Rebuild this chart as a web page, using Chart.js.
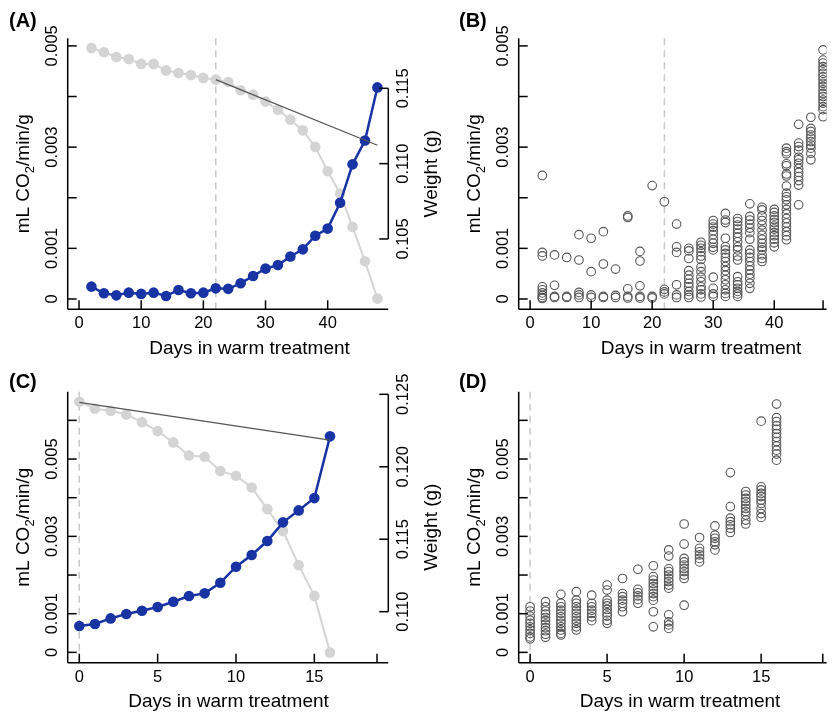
<!DOCTYPE html>
<html>
<head>
<meta charset="utf-8">
<script src="https://cdn.jsdelivr.net/npm/chart.js@4.4.0/dist/chart.umd.min.js"></script>
<style>
  html, body { margin: 0; padding: 0; background: #fff; overflow: hidden; }
  #wrap { position: relative; width: 832px; height: 716px; }
  canvas { position: absolute; }
</style>
</head>
<body>
<div id="wrap">
  <canvas id="cA" width="450" height="360" style="left:0;top:0"></canvas>
  <canvas id="cB" width="416" height="360" style="left:416px;top:0"></canvas>
  <canvas id="cC" width="450" height="356" style="left:0;top:360px"></canvas>
  <canvas id="cD" width="416" height="356" style="left:416px;top:360px"></canvas>
</div>
<script>
// ---- Panel A: one individual, respiration (left) + weight (right) ----
const daysA = [2, 4, 6, 8, 10, 12, 14, 16, 18, 20, 22, 24, 26, 28, 30, 32, 34, 36, 38, 40, 42, 44, 46, 48];
const respA = [0.000244, 0.000112, 0.000072, 0.000125, 0.000100, 0.000125, 0.000060, 0.000178, 0.000112, 0.000125,
  0.000210, 0.000200, 0.000310, 0.000455, 0.000600, 0.000670, 0.000840, 0.000980, 0.00125, 0.00139,
  0.00190, 0.00266, 0.00313, 0.00418];
const weightA = [0.11768, 0.11739, 0.11708, 0.11695, 0.11662, 0.11662, 0.11619, 0.11602, 0.11588, 0.11569,
  0.11558, 0.11542, 0.11487, 0.11458, 0.11412, 0.11358, 0.11292, 0.11221, 0.11111, 0.10949,
  0.10801, 0.10580, 0.10352, 0.10104];
const trendDaysA = [22, 48];
const trendWeightA = [0.11558, 0.11122];

// ---- Panel B: all individuals, respiration by day ----
const daysB = [2, 4, 6, 8, 10, 12, 14, 16, 18, 20, 22, 24, 26, 28, 30, 32, 34, 36, 38, 40, 42, 44, 46, 48];
const respB = [
  [0.00244, 0.00092, 0.00085, 0.00024, 0.00018, 0.00012, 0.00007, 0.00003, 0.00001],
  [0.00087, 0.00027, 0.00005, 0.00003],
  [0.00082, 0.00005, 0.00003],
  [0.00127, 0.00077, 0.00013, 0.00008, 0.00003],
  [0.00120, 0.00054, 0.00008, 0.00003],
  [0.00133, 0.00069, 0.00005, 0.00003],
  [0.00059, 0.00007, 0.00003],
  [0.00164, 0.00161, 0.00020, 0.00005, 0.00002],
  [0.00094, 0.00075, 0.00026, 0.00005, 0.00002],
  [0.00224, 0.00005, 0.00002],
  [0.00192, 0.00019, 0.00014, 0.00010],
  [0.00148, 0.00103, 0.00092, 0.00028, 0.00008, 0.00003],
  [0.00100, 0.00095, 0.00080, 0.00056, 0.00047, 0.00039, 0.00031, 0.00024, 0.00015, 0.00008, 0.00003],
  [0.00112, 0.00106, 0.00100, 0.00093, 0.00085, 0.00078, 0.00063, 0.00054, 0.00043, 0.00034, 0.00024, 0.00018, 0.00010, 0.00004],
  [0.00155, 0.00148, 0.00142, 0.00135, 0.00127, 0.00118, 0.00110, 0.00102, 0.00097, 0.00043, 0.00021, 0.00010, 0.00005],
  [0.00169, 0.00156, 0.00151, 0.00120, 0.00103, 0.00097, 0.00090, 0.00082, 0.00074, 0.00064, 0.00056, 0.00047, 0.00038, 0.00028, 0.00018, 0.00011, 0.00005],
  [0.00159, 0.00153, 0.00146, 0.00138, 0.00130, 0.00122, 0.00113, 0.00103, 0.00097, 0.00085, 0.00077, 0.00044, 0.00034, 0.00028, 0.00021, 0.00015, 0.00010, 0.00005],
  [0.00188, 0.00163, 0.00156, 0.00148, 0.00140, 0.00131, 0.00118, 0.00097, 0.00090, 0.00082, 0.00074, 0.00065, 0.00057, 0.00049, 0.00041, 0.00031, 0.00021],
  [0.00181, 0.00176, 0.00164, 0.00155, 0.00146, 0.00136, 0.00126, 0.00118, 0.00110, 0.00102, 0.00097, 0.00087, 0.00080, 0.00074],
  [0.00177, 0.00171, 0.00164, 0.00157, 0.00151, 0.00144, 0.00138, 0.00131, 0.00125, 0.00118, 0.00111, 0.00103],
  [0.00298, 0.00291, 0.00287, 0.00267, 0.00263, 0.00247, 0.00243, 0.00223, 0.00209, 0.00202, 0.00196, 0.00186, 0.00177, 0.00168, 0.00159, 0.00150, 0.00142, 0.00133, 0.00125, 0.00117],
  [0.00345, 0.00308, 0.00301, 0.00294, 0.00280, 0.00275, 0.00268, 0.00258, 0.00250, 0.00242, 0.00234, 0.00225, 0.00186],
  [0.00359, 0.00337, 0.00331, 0.00324, 0.00318, 0.00311, 0.00304, 0.00298, 0.00288, 0.00275],
  [0.00492, 0.00472, 0.00466, 0.00459, 0.00453, 0.00446, 0.00439, 0.00433, 0.00426, 0.00420, 0.00413, 0.00406, 0.00400, 0.00393, 0.00387, 0.00380, 0.00374, 0.00360]
];

// ---- Panel C: one individual, second experiment ----
const daysC = [0, 1, 2, 3, 4, 5, 6, 7, 8, 9, 10, 11, 12, 13, 14, 15, 16];
const respC = [0.000681, 0.000733, 0.000879, 0.000991, 0.001078, 0.001172, 0.00131, 0.001457, 0.001526,
  0.0018, 0.002216, 0.002517, 0.00288, 0.003362, 0.003672, 0.00399, 0.005586];
const weightC = [0.12449, 0.12400, 0.12387, 0.12361, 0.12308, 0.12246, 0.12168, 0.12078, 0.12069,
  0.11970, 0.11938, 0.11857, 0.11708, 0.11556, 0.11321, 0.11109, 0.10718];
const trendDaysC = [0, 16];
const trendWeightC = [0.12444, 0.12184];

// ---- Panel D: all individuals, second experiment ----
const daysD = [0, 1, 2, 3, 4, 5, 6, 7, 8, 9, 10, 11, 12, 13, 14, 15, 16];
const respD = [
  [0.00118, 0.00107, 0.00094, 0.00083, 0.00075, 0.00066, 0.00058, 0.00049, 0.00040, 0.00035],
  [0.00131, 0.00118, 0.00107, 0.00099, 0.00090, 0.00082, 0.00073, 0.00064, 0.00056, 0.00047, 0.00039],
  [0.00150, 0.00127, 0.00118, 0.00109, 0.00101, 0.00092, 0.00083, 0.00075, 0.00066, 0.00058, 0.00049, 0.00045],
  [0.00157, 0.00135, 0.00127, 0.00118, 0.00109, 0.00101, 0.00092, 0.00083, 0.00075, 0.00066, 0.00058],
  [0.00148, 0.00127, 0.00118, 0.00109, 0.00101, 0.00092, 0.00082],
  [0.00174, 0.00161, 0.00135, 0.00127, 0.00120, 0.00111, 0.00102, 0.00094, 0.00083, 0.00075],
  [0.00191, 0.00152, 0.00144, 0.00135, 0.00127, 0.00118, 0.00105],
  [0.00215, 0.00163, 0.00154, 0.00146, 0.00137, 0.00127],
  [0.00224, 0.00196, 0.00187, 0.00178, 0.00170, 0.00161, 0.00152, 0.00144, 0.00135, 0.00105, 0.00066],
  [0.00265, 0.00249, 0.00216, 0.00209, 0.00200, 0.00191, 0.00183, 0.00174, 0.00166, 0.00097, 0.00079, 0.00071, 0.00062],
  [0.00332, 0.00280, 0.00243, 0.00234, 0.00226, 0.00217, 0.00209, 0.00200, 0.00191, 0.00122],
  [0.00297, 0.00269, 0.00260, 0.00252, 0.00243, 0.00234],
  [0.00327, 0.00303, 0.00295, 0.00286, 0.00278, 0.00265],
  [0.00465, 0.00377, 0.00347, 0.00338, 0.00330, 0.00321, 0.00310],
  [0.00416, 0.00407, 0.00398, 0.00390, 0.00381, 0.00372, 0.00364, 0.00355, 0.00342, 0.00332],
  [0.00598, 0.00428, 0.00420, 0.00411, 0.00403, 0.00394, 0.00385, 0.00372, 0.00359, 0.00349],
  [0.00642, 0.00607, 0.00597, 0.00586, 0.00577, 0.00566, 0.00556, 0.00545, 0.00534, 0.00523, 0.00513, 0.00497]
];

// ---- Axis ticks and labels ----
const respTicksAB = [0, 0.001, 0.002, 0.003, 0.004, 0.005];
const respLabelsAB = ["0", "0.001", "", "0.003", "", "0.005"];
const respTicksCD = [0, 0.001, 0.002, 0.003, 0.004, 0.005, 0.006];
const respLabelsCD = ["0", "0.001", "", "0.003", "", "0.005", ""];
const dayTicksA = [0, 10, 20, 30, 40];
const dayLabelsA = ["0", "10", "20", "30", "40"];
const dayTicksB = [0, 10, 20, 30, 40, 48];
const dayLabelsB = ["0", "10", "20", "30", "40", ""];
const dayTicksCD = [0, 5, 10, 15, 19];
const dayLabelsCD = ["0", "5", "10", "15", ""];
const weightTicksA = [0.105, 0.110, 0.115];
const weightLabelsA = ["0.105", "0.110", "0.115"];
const weightTicksC = [0.110, 0.115, 0.120, 0.125];
const weightLabelsC = ["0.110", "0.115", "0.120", "0.125"];

const BLUE = "#1833a4";
const LIGHT = "#d4d4d4";
const RING = "#555555";
const FONT = '"Liberation Sans", Arial, Helvetica, sans-serif';

// per-panel axis setup (read by the plugin)
const panels = {
  cA: { letter: "(A)", letterX: 9, letterY: 21, treatDay: 22,
        xTicks: dayTicksA, xLabels: dayLabelsA, yTicks: respTicksAB, yLabels: respLabelsAB,
        y2Ticks: weightTicksA, y2Labels: weightLabelsA, xTitleX: 249.5, y2TitleX: 432 },
  cB: { letter: "(B)", letterX: 43, letterY: 21, treatDay: 22,
        xTicks: dayTicksB, xLabels: dayLabelsB, yTicks: respTicksAB, yLabels: respLabelsAB,
        xTitleX: 285 },
  cC: { letter: "(C)", letterX: 9, letterY: 22, treatDay: 0,
        xTicks: dayTicksCD, xLabels: dayLabelsCD, yTicks: respTicksCD, yLabels: respLabelsCD,
        y2Ticks: weightTicksC, y2Labels: weightLabelsC, xTitleX: 228.5, y2TitleX: 432 },
  cD: { letter: "(D)", letterX: 43, letterY: 22, treatDay: 0,
        xTicks: dayTicksCD, xLabels: dayLabelsCD, yTicks: respTicksCD, yLabels: respLabelsCD,
        xTitleX: 264 }
};

function rotText(ctx, text, x, y, font) {
  ctx.save();
  ctx.translate(x, y);
  ctx.rotate(-Math.PI / 2);
  ctx.font = font;
  ctx.textAlign = "center";
  ctx.textBaseline = "middle";
  ctx.fillText(text, 0, 0);
  ctx.restore();
}

function respTitle(ctx, x, y) {
  const big = "19px " + FONT, small = "13px " + FONT;
  const parts = [["mL CO", big, 0], ["2", small, 5], ["/min/g", big, 0]];
  ctx.save();
  ctx.translate(x, y);
  ctx.rotate(-Math.PI / 2);
  let w = 0;
  parts.forEach(p => { ctx.font = p[1]; w += ctx.measureText(p[0]).width; });
  let cx = -w / 2;
  ctx.textBaseline = "alphabetic";
  ctx.textAlign = "left";
  parts.forEach(p => {
    ctx.font = p[1];
    ctx.fillText(p[0], cx, 7 + p[2]);
    cx += ctx.measureText(p[0]).width;
  });
  ctx.restore();
}

const TICK = 9;

const rAxes = {
  id: "rAxes",
  beforeDatasetsDraw(chart) {
    const p = panels[chart.canvas.id];
    const ctx = chart.ctx, a = chart.chartArea;
    const x = chart.scales.x.getPixelForValue(p.treatDay);
    ctx.save();
    ctx.strokeStyle = "#c9c9c9";
    ctx.lineWidth = 1.5;
    ctx.setLineDash([7, 5]);
    ctx.beginPath();
    ctx.moveTo(x, a.top);
    ctx.lineTo(x, a.bottom);
    ctx.stroke();
    ctx.restore();
  },
  afterDraw(chart) {
    const p = panels[chart.canvas.id];
    const ctx = chart.ctx, a = chart.chartArea;
    const sx = chart.scales.x, sy = chart.scales.y, sy2 = chart.scales.y2;
    const tickFont = "16.5px " + FONT;
    ctx.save();
    ctx.strokeStyle = "#000";
    ctx.fillStyle = "#000";
    ctx.lineWidth = 1.5;
    const seg = (x1, y1, x2, y2) => { ctx.beginPath(); ctx.moveTo(x1, y1); ctx.lineTo(x2, y2); ctx.stroke(); };

    // left and bottom axis lines
    seg(a.left, a.top, a.left, a.bottom);
    seg(a.left, a.bottom, a.right, a.bottom);

    p.yTicks.forEach((v, i) => {
      const y = sy.getPixelForValue(v);
      seg(a.left, y, a.left + TICK, y);
      if (p.yLabels[i]) rotText(ctx, p.yLabels[i], a.left - 15, y, tickFont);
    });

    ctx.font = tickFont;
    ctx.textAlign = "center";
    ctx.textBaseline = "middle";
    p.xTicks.forEach((v, i) => {
      const x = sx.getPixelForValue(v);
      seg(x, a.bottom, x, a.bottom - TICK);
      if (p.xLabels[i]) ctx.fillText(p.xLabels[i], x, a.bottom + 14.5);
    });

    // right axis for weight
    if (p.y2Ticks) {
      const top = sy2.getPixelForValue(p.y2Ticks[p.y2Ticks.length - 1]);
      const bot = sy2.getPixelForValue(p.y2Ticks[0]);
      seg(a.right, top, a.right, bot);
      p.y2Ticks.forEach((v, i) => {
        const y = sy2.getPixelForValue(v);
        seg(a.right - TICK, y, a.right, y);
        rotText(ctx, p.y2Labels[i], a.right + 15.5, y, tickFont);
      });
      rotText(ctx, "Weight (g)", p.y2TitleX, (a.top + a.bottom) / 2, "19px " + FONT);
    }

    // titles
    ctx.font = "19px " + FONT;
    ctx.textAlign = "center";
    ctx.textBaseline = "middle";
    ctx.fillText("Days in warm treatment", p.xTitleX, a.bottom + 39.5);
    respTitle(ctx, a.left - 45.5, (a.top + a.bottom) / 2);

    // panel letter
    ctx.font = "bold 20px " + FONT;
    ctx.textAlign = "left";
    ctx.fillText(p.letter, p.letterX, p.letterY);
    ctx.restore();
  }
};

function pairs(xs, ys) {
  return xs.map((x, i) => ({ x: x, y: ys[i] }));
}

function cloud(days, groups) {
  const pts = [];
  days.forEach((d, i) => groups[i].forEach(v => pts.push({ x: d, y: v })));
  return pts;
}

function lineSet(data, color, width, radius, axis, order) {
  return {
    data: data, yAxisID: axis, showLine: true, order: order,
    borderColor: color, backgroundColor: color, borderWidth: width,
    pointRadius: radius, pointBorderWidth: 0, pointBackgroundColor: color, pointHoverRadius: radius
  };
}

function ringSet(data) {
  return {
    data: data, yAxisID: "y", order: 1,
    pointRadius: 4.3, pointBorderWidth: 1.1, pointBorderColor: RING,
    pointBackgroundColor: "rgba(0,0,0,0)", pointHoverRadius: 4.3
  };
}

function makeChart(id, datasets, pad, xr, yr, y2r) {
  const scales = {
    x: { type: "linear", display: false, min: xr[0], max: xr[1] },
    y: { type: "linear", display: false, min: yr[0], max: yr[1] }
  };
  if (y2r) scales.y2 = { type: "linear", display: false, min: y2r[0], max: y2r[1] };
  return new Chart(document.getElementById(id), {
    type: "scatter",
    data: { datasets: datasets },
    options: {
      responsive: false,
      animation: false,
      devicePixelRatio: 1,
      layout: { padding: pad },
      plugins: { legend: { display: false }, tooltip: { enabled: false } },
      events: [],
      scales: scales
    },
    plugins: [rAxes]
  });
}

makeChart("cA", [
  lineSet(pairs(trendDaysA, trendWeightA), "#555555", 1.2, 0, "y2", 0),
  lineSet(pairs(daysA, respA), BLUE, 2.5, 5.3, "y", 1),
  lineSet(pairs(daysA, weightA), LIGHT, 2, 5.3, "y2", 2)
], { left: 67.7, top: 38.3, right: 61.7, bottom: 50.7 }, [-1.82, 49.75], [-0.000204, 0.00515], [0.10033, 0.11832]);

makeChart("cB", [ringSet(cloud(daysB, respB))],
  { left: 102.7, top: 38.3, right: 0, bottom: 50.7 }, [-1.87, 48.58], [-0.000204, 0.00515]);

makeChart("cC", [
  lineSet(pairs(trendDaysC, trendWeightC), "#555555", 1.2, 0, "y2", 0),
  lineSet(pairs(daysC, respC), BLUE, 2.5, 5.3, "y", 1),
  lineSet(pairs(daysC, weightC), LIGHT, 2, 5.3, "y2", 2)
], { left: 67.7, top: 31.7, right: 61.7, bottom: 53.3 }, [-0.74, 19.72], [-0.000267, 0.006741], [0.10648, 0.12518]);

makeChart("cD", [ringSet(cloud(daysD, respD))],
  { left: 102.7, top: 31.7, right: 0, bottom: 53.3 }, [-0.74, 19.25], [-0.000267, 0.006741]);
</script>
</body>
</html>
